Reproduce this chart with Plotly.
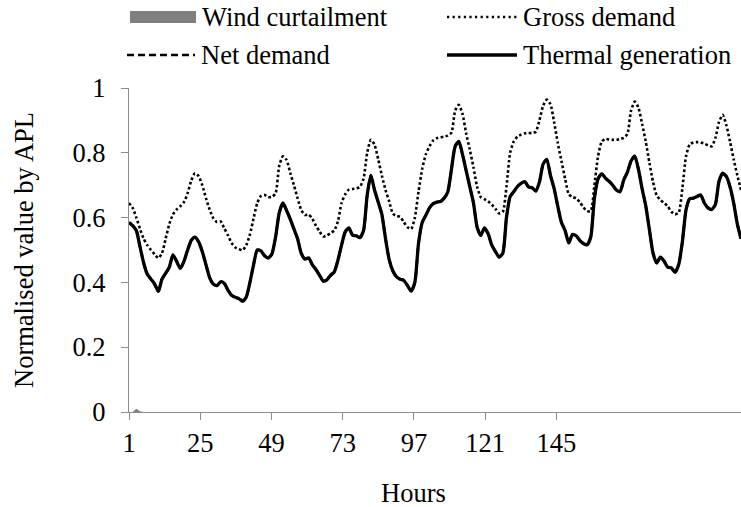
import plotly.graph_objects as go

hours = list(range(1, 169))

gross_demand = [
    0.645, 0.63, 0.60, 0.565, 0.535, 0.515, 0.50, 0.487, 0.475, 0.49, 0.535, 0.58, 0.61, 0.625, 0.635, 0.648, 0.675, 0.715, 0.737, 0.728, 0.70, 0.66, 0.625, 0.598,
    0.586, 0.588, 0.567, 0.545, 0.522, 0.508, 0.503, 0.499, 0.515, 0.548, 0.598, 0.645, 0.667, 0.67, 0.663, 0.664, 0.675, 0.76, 0.789, 0.778, 0.738, 0.70, 0.66, 0.624,
    0.608, 0.609, 0.597, 0.575, 0.557, 0.542, 0.545, 0.552, 0.56, 0.588, 0.645, 0.672, 0.686, 0.688, 0.69, 0.694, 0.72, 0.80, 0.84, 0.825, 0.78, 0.73, 0.685, 0.65,
    0.612, 0.605, 0.602, 0.586, 0.57, 0.565, 0.60, 0.68, 0.75, 0.795, 0.82, 0.838, 0.845, 0.848, 0.85, 0.853, 0.862, 0.93, 0.948, 0.92, 0.86, 0.81, 0.755, 0.695,
    0.663, 0.657, 0.65, 0.64, 0.627, 0.613, 0.618, 0.695, 0.80, 0.835, 0.85, 0.856, 0.86, 0.861, 0.861, 0.865, 0.90, 0.945, 0.964, 0.95, 0.895, 0.83, 0.775, 0.72,
    0.672, 0.663, 0.66, 0.648, 0.632, 0.62, 0.62, 0.70, 0.79, 0.835, 0.843, 0.841, 0.84, 0.84, 0.843, 0.846, 0.858, 0.93, 0.958, 0.94, 0.89, 0.835, 0.77, 0.71,
    0.668, 0.655, 0.645, 0.635, 0.618, 0.61, 0.615, 0.69, 0.789, 0.826, 0.832, 0.833, 0.832, 0.828, 0.823, 0.82, 0.845, 0.895, 0.917, 0.885, 0.835, 0.78, 0.73, 0.685,
]

thermal_generation = [
    0.585, 0.575, 0.56, 0.51, 0.46, 0.425, 0.41, 0.395, 0.372, 0.41, 0.428, 0.447, 0.485, 0.465, 0.443, 0.465, 0.50, 0.53, 0.54, 0.525, 0.495, 0.455, 0.415, 0.395,
    0.39, 0.402, 0.397, 0.376, 0.36, 0.354, 0.35, 0.342, 0.355, 0.40, 0.455, 0.50, 0.497, 0.482, 0.475, 0.488, 0.54, 0.615, 0.645, 0.622, 0.595, 0.565, 0.535, 0.49,
    0.472, 0.476, 0.455, 0.44, 0.422, 0.404, 0.408, 0.422, 0.432, 0.468, 0.515, 0.556, 0.568, 0.546, 0.544, 0.538, 0.56, 0.67, 0.73, 0.685, 0.648, 0.61, 0.535, 0.47,
    0.435, 0.417, 0.41, 0.406, 0.39, 0.373, 0.40, 0.52, 0.585, 0.607, 0.63, 0.643, 0.648, 0.65, 0.66, 0.68, 0.75, 0.82, 0.835, 0.795, 0.745, 0.695, 0.645, 0.57,
    0.545, 0.568, 0.55, 0.515, 0.495, 0.478, 0.49, 0.60, 0.665, 0.68, 0.696, 0.706, 0.711, 0.695, 0.692, 0.682, 0.71, 0.765, 0.78, 0.73, 0.69, 0.635, 0.585, 0.56,
    0.522, 0.548, 0.544, 0.53, 0.52, 0.516, 0.54, 0.66, 0.72, 0.735, 0.722, 0.712, 0.70, 0.685, 0.68, 0.716, 0.74, 0.775, 0.79, 0.75, 0.69, 0.637, 0.563, 0.49,
    0.46, 0.478, 0.466, 0.447, 0.445, 0.431, 0.455, 0.525, 0.624, 0.658, 0.66, 0.665, 0.67, 0.645, 0.63, 0.625, 0.64, 0.712, 0.737, 0.727, 0.695, 0.645, 0.58, 0.535,
]

net_demand = list(thermal_generation)

curtailment_nonzero = {3: 0.01, 4: 0.002, 29: 0.002, 30: 0.002}
wind_curtailment = [curtailment_nonzero.get(h, 0.0) for h in hours]

x_tick_labels = [1, 25, 49, 73, 97, 121, 145]
# the reference's tick labels are spaced more tightly than its data points
label_spacing_ratio = 0.81
x_tick_positions = [1 + (v - 1) * label_spacing_ratio for v in x_tick_labels]
y_tick_values = [0, 0.2, 0.4, 0.6, 0.8, 1]

FONT = "Liberation Serif"
AXIS_GREY = "#8c8c8c"
FS = 26.5

fig = go.Figure()
fig.add_trace(go.Scatter(x=hours, y=wind_curtailment, name="Wind curtailment",
                         mode="lines", line=dict(width=0, color="#808080"),
                         fill="tozeroy", fillcolor="#808080"))
fig.add_trace(go.Scatter(x=hours, y=gross_demand, name="Gross demand", mode="lines",
                         line=dict(color="black", width=2.6, dash="2.6px,2.4px",
                                   shape="spline", smoothing=0.6)))
fig.add_trace(go.Scatter(x=hours, y=net_demand, name="Net demand", mode="lines",
                         line=dict(color="black", width=2.6, dash="7px,4px",
                                   shape="spline", smoothing=0.6)))
fig.add_trace(go.Scatter(x=hours, y=thermal_generation, name="Thermal generation", mode="lines",
                         line=dict(color="black", width=3.3, shape="spline", smoothing=0.6)))

# plot area in pixels
L, R, T, B = 129, 741, 88, 412
W, H = R - L, B - T


def px(x):
    return (x - L) / W


def py(y):
    return (B - y) / H


legend_items = [
    ("Wind curtailment", 130, 196, 17, "area"),
    ("Gross demand", 447, 517, 17, "2.2px,3.4px"),
    ("Net demand", 127, 195, 55, "7px,4px"),
    ("Thermal generation", 447, 517, 55, "solid"),
]
shapes = []
annotations = []
for label, x0, x1, yc, style in legend_items:
    if style == "area":
        shapes.append(dict(type="rect", xref="paper", yref="paper",
                           x0=px(x0), x1=px(x1), y0=py(yc + 6), y1=py(yc - 6),
                           fillcolor="#808080", line=dict(width=0)))
    else:
        shapes.append(dict(type="line", xref="paper", yref="paper",
                           x0=px(x0), x1=px(x1), y0=py(yc), y1=py(yc),
                           line=dict(color="black", width=3.3 if style == "solid" else 2.4,
                                     dash=style)))
    annotations.append(dict(text=label, xref="paper", yref="paper", x=px(x1 + 4), y=py(yc),
                            xanchor="left", yanchor="middle", showarrow=False,
                            font=dict(family=FONT, size=FS, color="black")))

annotations.append(dict(text="Hours", xref="paper", yref="paper", x=px(413), y=py(493),
                        xanchor="center", yanchor="middle", showarrow=False,
                        font=dict(family=FONT, size=FS, color="black")))

fig.update_layout(
    width=741, height=507, autosize=False,
    margin=dict(l=L, r=741 - R, t=T, b=507 - B),
    paper_bgcolor="white", plot_bgcolor="white",
    showlegend=False,
    font=dict(family=FONT, size=FS, color="black"),
    shapes=shapes, annotations=annotations,
    xaxis=dict(range=[1, 168], tickvals=x_tick_positions, ticktext=[str(v) for v in x_tick_labels],
               showgrid=False, zeroline=False, showline=True, linecolor=AXIS_GREY, linewidth=1.3,
               ticks="outside", ticklen=7, tickcolor=AXIS_GREY, tickwidth=1.3,
               tickfont=dict(family=FONT, size=FS, color="black")),
    yaxis=dict(range=[0, 1], tickvals=y_tick_values, ticktext=["0", "0.2", "0.4", "0.6", "0.8", "1"],
               showgrid=False, zeroline=False, showline=True, linecolor=AXIS_GREY, linewidth=1.3,
               ticks="outside", ticklen=7, tickcolor=AXIS_GREY, tickwidth=1.3, ticklabelstandoff=10,
               tickfont=dict(family=FONT, size=FS, color="black"),
               title=dict(text="Normalised value by APL", standoff=31, font=dict(family=FONT, size=FS))),
)

fig.write_html("out.html")
